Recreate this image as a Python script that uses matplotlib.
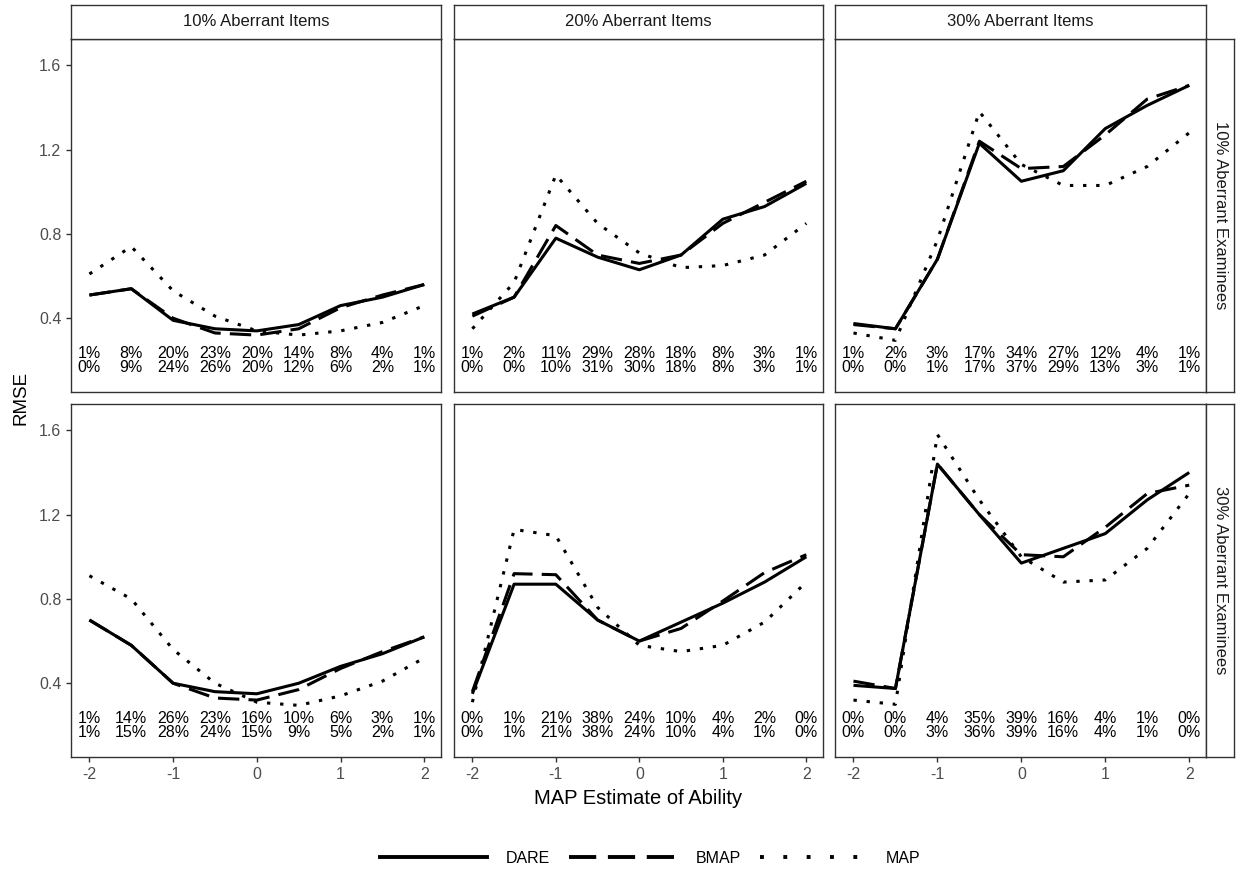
import matplotlib
matplotlib.use("Agg")
import matplotlib.pyplot as plt
from matplotlib.lines import Line2D

plt.rcParams['font.family'] = ['Liberation Sans', 'DejaVu Sans']
plt.rcParams['axes.unicode_minus'] = False

# MAP estimate of ability (bin centres)
theta = [-2, -1.5, -1, -0.5, 0, 0.5, 1, 1.5, 2]

item_levels = ["10% Aberrant Items", "20% Aberrant Items", "30% Aberrant Items"]
exam_levels = ["10% Aberrant Examinees", "30% Aberrant Examinees"]

# RMSE, 10% aberrant examinees
dare_e10 = [[0.51, 0.54, 0.39, 0.35, 0.34, 0.37, 0.46, 0.50, 0.56],
            [0.42, 0.50, 0.78, 0.69, 0.63, 0.70, 0.87, 0.93, 1.04],
            [0.375, 0.35, 0.68, 1.23, 1.05, 1.10, 1.30, 1.41, 1.505]]
bmap_e10 = [[0.51, 0.54, 0.40, 0.33, 0.32, 0.35, 0.45, 0.51, 0.56],
            [0.41, 0.50, 0.84, 0.70, 0.66, 0.70, 0.85, 0.95, 1.05],
            [0.37, 0.35, 0.68, 1.24, 1.11, 1.12, 1.27, 1.44, 1.505]]
map_e10 = [[0.61, 0.74, 0.53, 0.41, 0.34, 0.32, 0.34, 0.38, 0.46],
           [0.35, 0.57, 1.08, 0.85, 0.71, 0.64, 0.65, 0.70, 0.85],
           [0.33, 0.295, 0.77, 1.38, 1.13, 1.03, 1.03, 1.12, 1.28]]

# RMSE, 30% aberrant examinees
dare_e30 = [[0.70, 0.58, 0.40, 0.36, 0.35, 0.40, 0.48, 0.54, 0.62],
            [0.35, 0.87, 0.87, 0.70, 0.60, 0.69, 0.78, 0.88, 1.00],
            [0.39, 0.375, 1.44, 1.20, 0.97, 1.04, 1.11, 1.27, 1.40]]
bmap_e30 = [[0.70, 0.58, 0.40, 0.33, 0.32, 0.37, 0.47, 0.55, 0.62],
            [0.36, 0.92, 0.915, 0.70, 0.60, 0.66, 0.79, 0.925, 1.01],
            [0.41, 0.375, 1.44, 1.20, 1.01, 1.00, 1.14, 1.30, 1.34]]
map_e30 = [[0.91, 0.80, 0.56, 0.40, 0.31, 0.295, 0.34, 0.41, 0.52],
           [0.31, 1.13, 1.10, 0.76, 0.58, 0.55, 0.58, 0.69, 0.88],
           [0.32, 0.30, 1.58, 1.27, 1.00, 0.88, 0.89, 1.04, 1.30]]

# percentage of examinees per bin (two rows of labels)
pct_top_e10 = [[1, 8, 20, 23, 20, 14, 8, 4, 1],
               [1, 2, 11, 29, 28, 18, 8, 3, 1],
               [1, 2, 3, 17, 34, 27, 12, 4, 1]]
pct_bot_e10 = [[0, 9, 24, 26, 20, 12, 6, 2, 1],
               [0, 0, 10, 31, 30, 18, 8, 3, 1],
               [0, 0, 1, 17, 37, 29, 13, 3, 1]]
pct_top_e30 = [[1, 14, 26, 23, 16, 10, 6, 3, 1],
               [0, 1, 21, 38, 24, 10, 4, 2, 0],
               [0, 0, 4, 35, 39, 16, 4, 1, 0]]
pct_bot_e30 = [[1, 15, 28, 24, 15, 9, 5, 2, 1],
               [0, 1, 21, 38, 24, 10, 4, 1, 0],
               [0, 0, 3, 36, 39, 16, 4, 1, 0]]

dare = [dare_e10, dare_e30]
bmap = [bmap_e10, bmap_e30]
mapr = [map_e10, map_e30]
pct_top = [pct_top_e10, pct_top_e30]
pct_bot = [pct_bot_e10, pct_bot_e30]

W, H = 1239, 871
fig = plt.figure(figsize=(W / 100, H / 100), dpi=100)


def rect(l, t, r, b):
    return [l / W, 1 - b / H, (r - l) / W, (b - t) / H]


cols = [(71, 441), (454, 823), (835, 1206)]
rows = [(39, 392), (404, 757)]
edge = '#333333'
lw = 2.2
dashed = (0, (7, 3))
dotted = (0, (1.1, 3.2))

for i, (t, b) in enumerate(rows):
    for j, (l, r) in enumerate(cols):
        ax = fig.add_axes(rect(l, t, r, b))
        ax.plot(theta, dare[i][j], color='black', lw=lw, solid_capstyle='butt')
        ax.plot(theta, bmap[i][j], color='black', lw=lw, linestyle=dashed)
        ax.plot(theta, mapr[i][j], color='black', lw=lw, linestyle=dotted)
        for k, xv in enumerate(theta):
            ax.text(xv, 0.232, f"{pct_top[i][j][k]}%", ha='center', va='center', fontsize=11.5)
            ax.text(xv, 0.165, f"{pct_bot[i][j][k]}%", ha='center', va='center', fontsize=11.5)
        ax.set_xlim(-2.22, 2.2)
        ax.set_ylim(0.05, 1.725)
        ax.set_xticks([-2, -1, 0, 1, 2])
        ax.set_yticks([0.4, 0.8, 1.2, 1.6])
        ax.tick_params(colors=edge, labelcolor='#4D4D4D', labelsize=11.5, length=3.5, width=1)
        if j > 0:
            ax.tick_params(axis='y', left=False, labelleft=False)
        if i == 0:
            ax.tick_params(axis='x', bottom=False, labelbottom=False)
        for s in ax.spines.values():
            s.set_color(edge)
            s.set_linewidth(1)

# strips on top
for j, (l, r) in enumerate(cols):
    sx = fig.add_axes(rect(l, 5, r, 39))
    sx.set_xticks([])
    sx.set_yticks([])
    for s in sx.spines.values():
        s.set_color(edge)
        s.set_linewidth(1)
    sx.text(0.5, 0.5, item_levels[j], ha='center', va='center', fontsize=12, color='#1A1A1A',
            transform=sx.transAxes)

# strips on the right
for i, (t, b) in enumerate(rows):
    sy = fig.add_axes(rect(1206, t, 1234, b))
    sy.set_xticks([])
    sy.set_yticks([])
    for s in sy.spines.values():
        s.set_color(edge)
        s.set_linewidth(1)
    sy.text(0.5, 0.5, exam_levels[i], ha='center', va='center', fontsize=12, color='#1A1A1A',
            rotation=-90, transform=sy.transAxes)

fig.text(21 / W, 1 - 398 / H, "RMSE", rotation=90, ha='center', va='center', fontsize=13.5)
fig.text(638 / W, 1 - 798 / H, "MAP Estimate of Ability", ha='center', va='center', fontsize=14.5)

leg_lw = 2.8
handles = [Line2D([], [], color='black', lw=leg_lw),
           Line2D([], [], color='black', lw=leg_lw, linestyle=(0, (7, 3))),
           Line2D([], [], color='black', lw=leg_lw, linestyle=(0, (1, 5)))]
fig.legend(handles, ["DARE", "BMAP", "MAP"], loc='center', bbox_to_anchor=(650 / W, 1 - 858 / H),
           ncol=3, frameon=False, fontsize=11.5, handlelength=6.7, handletextpad=1.2,
           columnspacing=1.2)

fig.savefig("out.png", dpi=100)
